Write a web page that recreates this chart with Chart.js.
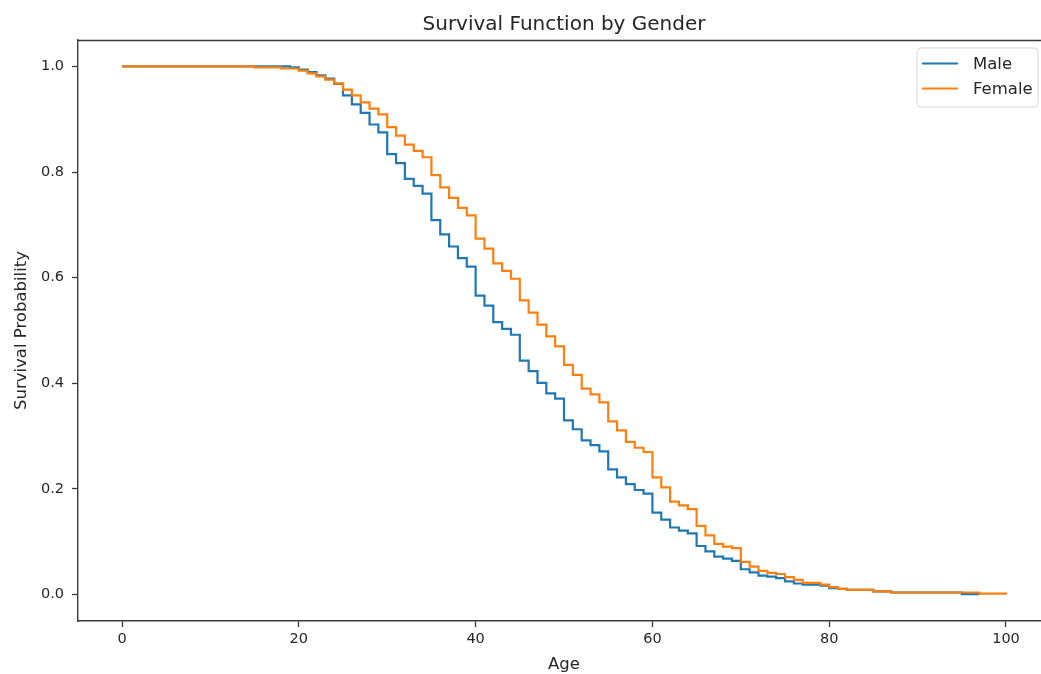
<!DOCTYPE html>
<html>
<head>
<meta charset="utf-8">
<script src="https://cdn.jsdelivr.net/npm/chart.js@4.4.1/dist/chart.umd.min.js"></script>
<style>
  html, body { margin: 0; padding: 0; background: #fff; overflow: hidden; }
  canvas { display: block; }
</style>
</head>
<body>
<canvas id="c" width="1041" height="674"></canvas>
<script>
// ---- Data ----
const chartTitle = "Survival Function by Gender";
const xAxisTitle = "Age";
const yAxisTitle = "Survival Probability";
const xTickValues = [0, 20, 40, 60, 80, 100];
const yTickValues = [0.0, 0.2, 0.4, 0.6, 0.8, 1.0];

const maleLabel = "Male";
const maleAges = [0, 19, 20, 21, 22, 23, 24, 25, 26, 27, 28, 29, 30, 31, 32, 33, 34, 35, 36, 37, 38, 39,
  40, 41, 42, 43, 44, 45, 46, 47, 48, 49, 50, 51, 52, 53, 54, 55, 56, 57, 58, 59,
  60, 61, 62, 63, 64, 65, 66, 67, 68, 69, 70, 71, 72, 73, 74, 75, 76, 77, 79, 80, 81, 82, 85, 87, 95, 97];
const maleSurvival = [1.0, 0.998, 0.994, 0.989, 0.983, 0.977, 0.967, 0.945, 0.928, 0.912, 0.890, 0.875, 0.834, 0.817, 0.787, 0.774, 0.759, 0.709, 0.682, 0.659, 0.637, 0.621,
  0.566, 0.547, 0.516, 0.503, 0.492, 0.443, 0.423, 0.401, 0.381, 0.371, 0.330, 0.313, 0.292, 0.283, 0.271, 0.237, 0.222, 0.209, 0.198, 0.191,
  0.155, 0.142, 0.127, 0.121, 0.116, 0.092, 0.082, 0.072, 0.068, 0.064, 0.048, 0.042, 0.036, 0.034, 0.031, 0.025, 0.021, 0.019, 0.017, 0.012, 0.011, 0.009, 0.006, 0.004, 0.001, 0.001];

const femaleLabel = "Female";
const femaleAges = [0, 15, 18, 20, 21, 22, 23, 24, 25, 26, 27, 28, 29, 30, 31, 32, 33, 34, 35, 36, 37, 38, 39,
  40, 41, 42, 43, 44, 45, 46, 47, 48, 49, 50, 51, 52, 53, 54, 55, 56, 57, 58, 59,
  60, 61, 62, 63, 64, 65, 66, 67, 68, 69, 70, 71, 72, 73, 74, 75, 76, 77, 79, 80, 81, 82, 85, 87, 97, 100];
const femaleSurvival = [1.0, 0.998, 0.996, 0.992, 0.987, 0.981, 0.975, 0.968, 0.956, 0.945, 0.932, 0.920, 0.909, 0.885, 0.869, 0.852, 0.840, 0.828, 0.794, 0.771, 0.751, 0.732, 0.718,
  0.674, 0.655, 0.627, 0.613, 0.598, 0.557, 0.534, 0.511, 0.489, 0.470, 0.435, 0.416, 0.390, 0.379, 0.364, 0.328, 0.311, 0.289, 0.278, 0.270,
  0.222, 0.203, 0.176, 0.169, 0.162, 0.130, 0.112, 0.096, 0.091, 0.088, 0.062, 0.053, 0.045, 0.041, 0.039, 0.033, 0.028, 0.022, 0.019, 0.014, 0.011, 0.009, 0.006, 0.004, 0.002, 0.0];

const maleColor = "#1f77b4";
const femaleColor = "#ff7f0e";

// axis ranges (matplotlib-style margins; right side of the figure is cropped)
const xMin = -4.98, xMax = 103.96;
const yMin = -0.05, yMax = 1.05;

// ---- Build ----
const toPoints = (xs, ys) => xs.map((x, i) => ({ x: x, y: ys[i] }));
const FONT = "'DejaVu Sans', 'Liberation Sans', sans-serif";
const TEXT = "#262626";
const SPINE = "#3a3a3a";

const decorPlugin = {
  id: 'decor',
  afterDraw(chart) {
    const ctx = chart.ctx;
    const a = chart.chartArea;
    const xs = chart.scales.x;
    ctx.save();
    // top spine
    ctx.strokeStyle = SPINE;
    ctx.lineWidth = 1.4;
    ctx.beginPath();
    ctx.moveTo(a.left, a.top + 0.5);
    ctx.lineTo(a.right, a.top + 0.5);
    ctx.stroke();
    const cx = (xs.getPixelForValue(-5) + xs.getPixelForValue(105)) / 2;
    // title
    ctx.fillStyle = TEXT;
    ctx.font = "20px " + FONT;
    ctx.textAlign = "center";
    ctx.textBaseline = "alphabetic";
    ctx.fillText(chartTitle, cx, 30);
    // x axis title
    ctx.font = "16.5px " + FONT;
    ctx.fillText(xAxisTitle, cx, 669);
    // y axis title
    ctx.save();
    ctx.translate(26, (a.top + a.bottom) / 2);
    ctx.rotate(-Math.PI / 2);
    ctx.fillText(yAxisTitle, 0, 0);
    ctx.restore();
    // legend box
    const bx = 917, by = 48, bw = 121, bh = 59, r = 4;
    ctx.beginPath();
    ctx.moveTo(bx + r, by);
    ctx.lineTo(bx + bw - r, by);
    ctx.quadraticCurveTo(bx + bw, by, bx + bw, by + r);
    ctx.lineTo(bx + bw, by + bh - r);
    ctx.quadraticCurveTo(bx + bw, by + bh, bx + bw - r, by + bh);
    ctx.lineTo(bx + r, by + bh);
    ctx.quadraticCurveTo(bx, by + bh, bx, by + bh - r);
    ctx.lineTo(bx, by + r);
    ctx.quadraticCurveTo(bx, by, bx + r, by);
    ctx.closePath();
    ctx.fillStyle = "rgba(255,255,255,0.8)";
    ctx.fill();
    ctx.strokeStyle = "#d6d6d6";
    ctx.lineWidth = 1;
    ctx.stroke();
    const ds = chart.data.datasets;
    const rowsY = [63.5, 88.5];
    ctx.textAlign = "left";
    ctx.textBaseline = "middle";
    ctx.font = "16.5px " + FONT;
    ds.forEach((d, i) => {
      const yy = rowsY[i];
      ctx.strokeStyle = d.borderColor;
      ctx.lineWidth = 2.2;
      ctx.beginPath();
      ctx.moveTo(922, yy);
      ctx.lineTo(958, yy);
      ctx.stroke();
      ctx.fillStyle = TEXT;
      ctx.fillText(d.label, 973, yy + 1);
    });
    ctx.restore();
  }
};

new Chart(document.getElementById('c'), {
  type: 'line',
  data: {
    datasets: [
      { label: maleLabel, data: toPoints(maleAges, maleSurvival), borderColor: maleColor, backgroundColor: maleColor,
        borderWidth: 2.2, stepped: true, pointRadius: 0, fill: false, order: 1 },
      { label: femaleLabel, data: toPoints(femaleAges, femaleSurvival), borderColor: femaleColor, backgroundColor: femaleColor,
        borderWidth: 2.2, stepped: true, pointRadius: 0, fill: false, order: 0 }
    ]
  },
  options: {
    responsive: false,
    animation: false,
    devicePixelRatio: 1,
    layout: { padding: { top: 40, right: 0, left: 0, bottom: 0 } },
    plugins: { legend: { display: false }, title: { display: false }, tooltip: { enabled: false } },
    scales: {
      x: {
        type: 'linear', min: xMin, max: xMax,
        afterBuildTicks: (s) => { s.ticks = xTickValues.map(v => ({ value: v })); },
        afterFit: (s) => { s.height = 53; },
        grid: { display: true, drawOnChartArea: false, drawTicks: true, tickLength: 6, color: SPINE, tickWidth: 1.3 },
        border: { display: true, color: SPINE, width: 1.4 },
        ticks: { color: TEXT, font: { family: FONT, size: 14.5 }, padding: 4, maxRotation: 0,
          callback: (v) => String(v) }
      },
      y: {
        type: 'linear', min: yMin, max: yMax,
        afterBuildTicks: (s) => { s.ticks = yTickValues.map(v => ({ value: v })); },
        afterFit: (s) => { s.width = 78; },
        grid: { display: true, drawOnChartArea: false, drawTicks: true, tickLength: 6, color: SPINE, tickWidth: 1.3 },
        border: { display: true, color: SPINE, width: 1.4 },
        ticks: { color: TEXT, font: { family: FONT, size: 14.5 }, padding: 8,
          callback: (v) => Number(v).toFixed(1) }
      }
    }
  },
  plugins: [decorPlugin]
});
</script>
</body>
</html>
